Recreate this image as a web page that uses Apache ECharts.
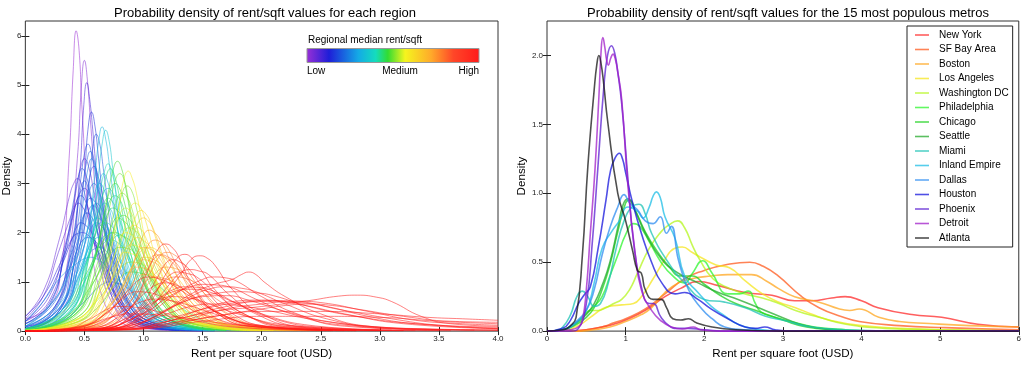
<!DOCTYPE html>
<html>
<head>
<meta charset="utf-8">
<script src="https://cdn.jsdelivr.net/npm/echarts@6/dist/echarts.min.js"></script>
<style>
html,body{margin:0;padding:0;background:#fff;}
#chart{width:1024px;height:365px;}
</style>
</head>
<body>
<div id="chart"></div>
<script>
// ---------------- DATA ----------------
const leftTitle = 'Probability density of rent/sqft values for each region';
const rightTitle = 'Probability density of rent/sqft values for the 15 most populous metros';
const xAxisTitle = 'Rent per square foot (USD)';
const yAxisTitle = 'Density';
const colorbarTitle = 'Regional median rent/sqft';
const colorbarLabels = ['Low', 'Medium', 'High'];

// Left panel: regional median rent/sqft (drives colour) and each region's density curve
const regionMedians = [
  0.36, 0.38, 0.44, 0.50, 0.54, 0.52, 0.42, 0.41, 0.53, 0.55, 0.43, 0.42, 0.57, 0.54, 0.58, 0.46, 0.58, 0.56, 0.48, 0.53, 0.51,
  0.66, 0.69, 0.73, 0.63, 0.68, 0.66, 0.70, 0.61, 0.65,
  0.80, 0.82, 0.76, 0.79, 0.83, 0.75, 0.87, 0.81, 0.80, 0.85, 0.82, 0.74, 0.84, 0.77, 0.78,
  0.90, 0.94, 0.97, 0.93, 0.95, 0.89, 0.98, 0.91,
  1.04, 1.07, 1.01, 1.11, 1.05, 1.02, 1.09, 1.03,
  1.35, 1.45, 1.55, 1.70, 2.20, 1.40, 1.38, 1.60, 1.60, 1.30, 1.80, 1.90, 2.00, 2.10, 1.25, 1.22, 1.50, 1.75, 1.95, 1.45, 2.05, 1.85,
  1.50, 1.65, 1.28, 1.90,
  0.52, 0.55, 0.49, 0.57, 0.53, 0.58,
  0.62, 0.67, 0.64,
  0.77, 0.81, 0.75, 0.83, 0.79,
  0.92, 0.96, 0.90,
  1.06, 1.09, 1.12, 1.01,
  1.30, 1.35, 1.45, 1.26
];
const regionCurves = [
  [[0,0.25],[0.2,0.5],[0.3,1.2],[0.37,3.5],[0.405,5.3],[0.43,6.1],[0.455,5.7],[0.48,4.5],[0.55,2.0],[0.65,0.7],[0.8,0.2],[1.0,0.05],[1.5,0]],
  [[0,0.1],[0.2,0.3],[0.35,1.3],[0.44,3.5],[0.475,5.0],[0.5,5.5],[0.525,5.1],[0.55,4.3],[0.62,2.2],[0.72,0.8],[0.85,0.25],[1.1,0.05],[1.5,0]],
  [[0,0.05],[0.25,0.3],[0.38,1.2],[0.46,3.2],[0.495,4.6],[0.52,5.05],[0.545,4.7],[0.57,4.1],[0.65,2.0],[0.75,0.8],[0.9,0.25],[1.1,0.05],[1.5,0]],
  [[0,0.05],[0.25,0.3],[0.4,1.2],[0.5,3.2],[0.53,4.1],[0.56,4.45],[0.59,4.15],[0.62,3.5],[0.7,1.8],[0.8,0.7],[0.95,0.2],[1.2,0.03],[1.6,0]],
  [[0,0.02],[0.3,0.3],[0.45,1.4],[0.54,3.0],[0.57,3.7],[0.6,4.0],[0.63,3.8],[0.66,3.3],[0.75,1.7],[0.85,0.7],[1.0,0.2],[1.2,0.04],[1.6,0]],
  [[0,0.1],[0.25,0.5],[0.38,1.6],[0.47,3.1],[0.5,3.6],[0.53,3.8],[0.565,3.55],[0.6,3.1],[0.7,1.6],[0.82,0.6],[1.0,0.15],[1.3,0.02]],
  [[0,0.2],[0.2,0.6],[0.35,1.8],[0.44,3.0],[0.47,3.35],[0.5,3.5],[0.54,3.3],[0.58,2.8],[0.68,1.5],[0.8,0.6],[1.0,0.15],[1.3,0.02]],
  [[0,0.3],[0.15,0.8],[0.28,1.8],[0.38,2.8],[0.41,3.0],[0.44,3.1],[0.48,2.95],[0.52,2.6],[0.62,1.4],[0.75,0.5],[0.9,0.15],[1.2,0.02]],
  [[0,0.15],[0.2,0.5],[0.33,1.6],[0.42,2.8],[0.45,3.15],[0.48,3.3],[0.515,3.15],[0.55,2.8],[0.65,1.6],[0.78,0.6],[0.95,0.15],[1.3,0.02]],
  [[0,0.05],[0.25,0.4],[0.4,1.6],[0.49,3.0],[0.52,3.45],[0.55,3.65],[0.585,3.45],[0.62,3.0],[0.72,1.6],[0.85,0.6],[1.0,0.2],[1.3,0.03]],
  [[0,0.2],[0.2,0.7],[0.33,1.7],[0.43,2.6],[0.465,2.82],[0.5,2.9],[0.54,2.78],[0.58,2.5],[0.68,1.5],[0.8,0.6],[1.0,0.2],[1.4,0.03]],
  [[0,0.25],[0.15,0.7],[0.28,1.6],[0.38,2.3],[0.415,2.52],[0.45,2.6],[0.49,2.5],[0.53,2.3],[0.63,1.4],[0.78,0.6],[1.0,0.15],[1.4,0.02]],
  [[0,0.05],[0.3,0.5],[0.43,1.6],[0.52,2.6],[0.55,2.9],[0.58,3.0],[0.615,2.88],[0.65,2.6],[0.75,1.5],[0.88,0.6],[1.05,0.2],[1.4,0.03]],
  [[0,0.1],[0.25,0.6],[0.38,1.5],[0.46,2.1],[0.49,2.33],[0.52,2.4],[0.56,2.32],[0.6,2.1],[0.7,1.4],[0.85,0.6],[1.05,0.2],[1.4,0.03]],
  [[0,0.05],[0.3,0.5],[0.45,1.4],[0.53,1.95],[0.57,2.15],[0.6,2.2],[0.645,2.13],[0.7,1.9],[0.8,1.3],[0.95,0.6],[1.15,0.2],[1.5,0.03]],
  [[0,0.3],[0.15,0.7],[0.3,1.4],[0.4,1.9],[0.44,1.98],[0.48,2.0],[0.53,1.95],[0.58,1.8],[0.7,1.2],[0.85,0.5],[1.05,0.15],[1.4,0.02]],
  [[0,0.05],[0.3,0.4],[0.45,1.1],[0.55,1.6],[0.585,1.67],[0.62,1.7],[0.67,1.66],[0.72,1.5],[0.85,1.0],[1.0,0.5],[1.2,0.2],[1.6,0.03]],
  [[0,0.02],[0.3,0.2],[0.5,0.6],[0.62,0.9],[0.67,0.97],[0.72,1.0],[0.78,0.97],[0.85,0.9],[1.0,0.6],[1.2,0.25],[1.5,0.05],[1.9,0]],
  [[0,0.2],[0.15,0.6],[0.3,1.3],[0.4,1.9],[0.435,2.12],[0.47,2.2],[0.51,2.15],[0.56,2.0],[0.66,1.3],[0.8,0.6],[1.0,0.2],[1.4,0.03]],
  [[0,0.08],[0.25,0.5],[0.4,1.5],[0.49,2.3],[0.52,2.6],[0.55,2.7],[0.59,2.62],[0.63,2.4],[0.73,1.5],[0.86,0.6],[1.05,0.2],[1.4,0.03]],
  [[0,0.03],[0.3,0.4],[0.44,1.5],[0.52,2.7],[0.55,3.2],[0.58,3.35],[0.615,3.15],[0.65,2.8],[0.75,1.5],[0.88,0.55],[1.05,0.15],[1.4,0.02]],

  [[0,0.02],[0.35,0.3],[0.5,1.4],[0.59,3.2],[0.62,3.85],[0.65,4.15],[0.68,3.9],[0.71,3.4],[0.8,1.8],[0.9,0.8],[1.05,0.25],[1.3,0.04],[1.7,0]],
  [[0,0.02],[0.38,0.3],[0.53,1.4],[0.62,3.2],[0.65,3.8],[0.68,4.08],[0.71,3.85],[0.74,3.3],[0.83,1.7],[0.95,0.7],[1.1,0.2],[1.4,0.03]],
  [[0,0.02],[0.38,0.4],[0.53,1.5],[0.63,2.8],[0.665,3.2],[0.7,3.4],[0.735,3.2],[0.77,2.8],[0.87,1.6],[1.0,0.6],[1.15,0.2],[1.5,0.03]],
  [[0,0.05],[0.3,0.4],[0.46,1.4],[0.56,2.5],[0.595,2.87],[0.63,3.0],[0.665,2.88],[0.7,2.6],[0.8,1.5],[0.92,0.6],[1.1,0.2],[1.5,0.03]],
  [[0,0.03],[0.3,0.35],[0.48,1.3],[0.6,2.3],[0.635,2.52],[0.67,2.6],[0.71,2.52],[0.75,2.3],[0.86,1.4],[1.0,0.6],[1.2,0.2],[1.6,0.03]],
  [[0,0.1],[0.2,0.5],[0.4,1.3],[0.52,2.0],[0.56,2.22],[0.6,2.3],[0.65,2.24],[0.7,2.1],[0.82,1.4],[0.98,0.6],[1.2,0.2],[1.6,0.03]],
  [[0,0.02],[0.35,0.3],[0.5,1.0],[0.63,1.8],[0.675,1.95],[0.72,2.0],[0.77,1.95],[0.82,1.8],[0.95,1.1],[1.1,0.5],[1.3,0.15],[1.7,0.02]],
  [[0,0.2],[0.15,0.6],[0.3,1.1],[0.45,1.4],[0.5,1.47],[0.55,1.5],[0.6,1.47],[0.65,1.4],[0.8,1.0],[0.95,0.5],[1.2,0.15],[1.6,0.02]],
  [[0,0.1],[0.25,0.45],[0.42,1.1],[0.54,1.7],[0.58,1.85],[0.62,1.9],[0.67,1.85],[0.72,1.75],[0.85,1.2],[1.0,0.55],[1.2,0.15],[1.6,0.02]],

  [[0,0.01],[0.4,0.3],[0.57,1.3],[0.7,2.8],[0.74,3.25],[0.78,3.45],[0.815,3.3],[0.85,2.9],[0.95,1.6],[1.08,0.6],[1.25,0.2],[1.6,0.02]],
  [[0,0.01],[0.42,0.3],[0.6,1.3],[0.72,2.6],[0.76,3.05],[0.8,3.2],[0.835,3.08],[0.87,2.7],[0.97,1.5],[1.1,0.6],[1.3,0.2],[1.7,0.02]],
  [[0,0.02],[0.38,0.4],[0.54,1.5],[0.65,2.7],[0.685,3.15],[0.72,3.3],[0.755,3.15],[0.79,2.8],[0.89,1.6],[1.02,0.6],[1.2,0.2],[1.6,0.02]],
  [[0,0.02],[0.4,0.35],[0.56,1.3],[0.68,2.5],[0.72,2.88],[0.76,3.0],[0.8,2.88],[0.84,2.6],[0.95,1.5],[1.1,0.6],[1.3,0.2],[1.7,0.02]],
  [[0,0.01],[0.45,0.3],[0.62,1.2],[0.74,2.3],[0.78,2.7],[0.82,2.8],[0.86,2.72],[0.9,2.5],[1.0,1.6],[1.15,0.7],[1.35,0.2],[1.8,0.02]],
  [[0,0.03],[0.35,0.4],[0.52,1.4],[0.63,2.3],[0.665,2.6],[0.7,2.7],[0.74,2.62],[0.78,2.4],[0.9,1.5],[1.05,0.6],[1.25,0.2],[1.7,0.02]],
  [[0,0.01],[0.45,0.25],[0.63,1.0],[0.76,2.0],[0.805,2.4],[0.85,2.5],[0.89,2.42],[0.93,2.2],[1.05,1.4],[1.2,0.6],[1.4,0.2],[1.9,0.02]],
  [[0,0.02],[0.4,0.3],[0.58,1.1],[0.7,1.9],[0.74,2.2],[0.78,2.3],[0.83,2.24],[0.88,2.1],[1.0,1.4],[1.15,0.6],[1.35,0.2],[1.8,0.02]],
  [[0,0.05],[0.3,0.35],[0.5,1.1],[0.65,1.8],[0.7,1.95],[0.75,2.0],[0.81,1.95],[0.87,1.8],[1.0,1.2],[1.18,0.5],[1.4,0.15],[1.9,0.02]],
  [[0,0.01],[0.45,0.2],[0.65,0.9],[0.78,1.7],[0.83,2.0],[0.88,2.1],[0.93,2.04],[0.98,1.9],[1.1,1.3],[1.25,0.6],[1.45,0.2],[2.0,0.02]],
  [[0,0.03],[0.35,0.3],[0.55,0.9],[0.7,1.5],[0.75,1.65],[0.8,1.7],[0.86,1.68],[0.92,1.6],[1.05,1.1],[1.22,0.5],[1.45,0.15],[2.0,0.02]],
  [[0,0.05],[0.3,0.4],[0.5,1.3],[0.6,2.0],[0.64,2.16],[0.68,2.2],[0.725,2.14],[0.77,2.0],[0.9,1.3],[1.05,0.6],[1.25,0.2],[1.7,0.02]],
  [[0,0.01],[0.4,0.2],[0.6,0.6],[0.78,1.2],[0.84,1.36],[0.9,1.4],[0.96,1.38],[1.02,1.3],[1.15,0.9],[1.35,0.4],[1.6,0.1],[2.2,0.01]],
  [[0,0.02],[0.38,0.35],[0.55,1.2],[0.66,2.1],[0.7,2.4],[0.74,2.5],[0.78,2.45],[0.82,2.3],[0.93,1.5],[1.08,0.6],[1.28,0.18],[1.7,0.02]],
  [[0,0.02],[0.4,0.3],[0.58,1.0],[0.71,1.7],[0.755,1.9],[0.8,1.95],[0.85,1.9],[0.9,1.8],[1.03,1.2],[1.2,0.5],[1.42,0.15],[1.9,0.02]],

  [[0,0.01],[0.45,0.2],[0.65,1.0],[0.79,2.5],[0.83,3.05],[0.87,3.25],[0.905,3.1],[0.94,2.8],[1.04,1.6],[1.18,0.6],[1.4,0.15],[1.9,0.01]],
  [[0,0],[0.5,0.15],[0.72,0.8],[0.88,1.9],[0.93,2.3],[0.98,2.45],[1.02,2.38],[1.06,2.2],[1.17,1.4],[1.32,0.6],[1.55,0.15],[2.1,0.01]],
  [[0,0],[0.5,0.12],[0.74,0.7],[0.9,1.8],[0.95,2.18],[1.0,2.3],[1.04,2.24],[1.08,2.1],[1.2,1.3],[1.35,0.6],[1.6,0.15],[2.2,0.01]],
  [[0,0.01],[0.45,0.15],[0.68,0.8],[0.83,1.7],[0.875,2.05],[0.92,2.15],[0.96,2.1],[1.0,2.0],[1.12,1.3],[1.28,0.6],[1.5,0.15],[2.0,0.01]],
  [[0,0.01],[0.45,0.15],[0.68,0.7],[0.84,1.5],[0.9,1.82],[0.95,1.9],[1.0,1.84],[1.06,1.7],[1.2,1.1],[1.38,0.5],[1.65,0.15],[2.3,0.01]],
  [[0,0.02],[0.4,0.2],[0.62,0.7],[0.75,1.3],[0.8,1.53],[0.85,1.6],[0.9,1.57],[0.96,1.5],[1.1,1.0],[1.3,0.45],[1.55,0.12],[2.1,0.01]],
  [[0,0],[0.45,0.1],[0.7,0.5],[0.88,1.2],[0.95,1.42],[1.02,1.5],[1.08,1.46],[1.15,1.35],[1.3,0.9],[1.5,0.4],[1.8,0.1],[2.5,0.01]],
  [[0,0.01],[0.45,0.18],[0.66,0.75],[0.8,1.45],[0.85,1.68],[0.9,1.75],[0.95,1.72],[1.0,1.65],[1.13,1.1],[1.3,0.5],[1.55,0.12],[2.1,0.01]],

  [[0,0],[0.55,0.1],[0.8,0.7],[0.95,1.6],[1.0,1.95],[1.05,2.05],[1.09,2.0],[1.13,1.9],[1.25,1.3],[1.4,0.6],[1.65,0.15],[2.3,0.01]],
  [[0,0],[0.55,0.08],[0.82,0.6],[0.98,1.4],[1.04,1.75],[1.1,1.85],[1.15,1.8],[1.2,1.7],[1.33,1.1],[1.5,0.5],[1.8,0.12],[2.5,0.01]],
  [[0,0],[0.5,0.1],[0.75,0.6],[0.9,1.3],[0.95,1.6],[1.0,1.7],[1.05,1.67],[1.1,1.6],[1.23,1.1],[1.4,0.5],[1.7,0.12],[2.4,0.01]],
  [[0,0],[0.6,0.08],[0.85,0.5],[1.02,1.2],[1.09,1.47],[1.15,1.55],[1.21,1.5],[1.27,1.4],[1.42,0.9],[1.62,0.4],[1.95,0.1],[2.7,0.01]],
  [[0,0],[0.6,0.08],[0.88,0.45],[1.05,1.0],[1.13,1.24],[1.2,1.3],[1.27,1.27],[1.33,1.2],[1.5,0.8],[1.72,0.35],[2.05,0.08],[2.8,0.01]],
  [[0,0.01],[0.45,0.1],[0.7,0.5],[0.85,1.0],[0.9,1.24],[0.95,1.3],[1.01,1.27],[1.07,1.2],[1.22,0.8],[1.42,0.35],[1.7,0.1],[2.4,0.01]],
  [[0,0],[0.5,0.08],[0.8,0.4],[0.97,0.85],[1.03,1.03],[1.1,1.1],[1.17,1.07],[1.25,1.0],[1.45,0.65],[1.7,0.3],[2.0,0.08],[2.8,0.01]],
  [[0,0],[0.5,0.1],[0.75,0.5],[0.9,1.15],[0.95,1.38],[1.0,1.45],[1.06,1.42],[1.12,1.35],[1.27,0.9],[1.47,0.4],[1.75,0.1],[2.4,0.01]],

  [[0,0],[0.6,0.05],[0.88,0.45],[1.05,1.3],[1.12,1.65],[1.19,1.77],[1.25,1.68],[1.3,1.5],[1.42,0.9],[1.6,0.4],[1.9,0.1],[2.6,0.01]],
  [[0,0],[0.7,0.05],[1.0,0.45],[1.2,1.2],[1.28,1.47],[1.35,1.56],[1.41,1.48],[1.47,1.3],[1.62,0.8],[1.85,0.35],[2.2,0.08],[3.0,0.01]],
  [[0,0],[0.75,0.05],[1.05,0.4],[1.3,1.1],[1.4,1.45],[1.48,1.53],[1.54,1.48],[1.6,1.35],[1.75,0.85],[2.0,0.35],[2.4,0.08],[3.2,0.01]],
  [[0,0],[0.8,0.05],[1.1,0.3],[1.4,0.75],[1.6,0.95],[1.75,1.05],[1.83,1.15],[1.89,1.2],[1.95,1.15],[2.02,1.0],[2.2,0.7],[2.5,0.35],[2.9,0.1],[3.5,0.02]],
  [[0,0],[0.8,0.03],[1.2,0.2],[1.6,0.4],[2.0,0.5],[2.4,0.62],[2.65,0.71],[2.81,0.73],[2.97,0.69],[3.1,0.6],[3.35,0.3],[3.6,0.15],[4.0,0.1]],
  [[0,0],[0.65,0.05],[0.95,0.4],[1.15,0.95],[1.23,1.15],[1.3,1.2],[1.37,1.17],[1.45,1.1],[1.62,0.75],[1.85,0.35],[2.2,0.1],[3.0,0.01]],
  [[0,0],[0.65,0.05],[0.95,0.45],[1.12,1.1],[1.19,1.38],[1.25,1.45],[1.31,1.4],[1.37,1.3],[1.52,0.85],[1.72,0.4],[2.05,0.1],[2.8,0.01]],
  [[0,0],[0.7,0.05],[1.0,0.3],[1.3,0.8],[1.5,1.05],[1.6,1.1],[1.7,1.08],[1.8,1.0],[2.0,0.7],[2.3,0.35],[2.7,0.1],[3.5,0.02]],
  [[0,0],[0.6,0.05],[0.95,0.3],[1.25,0.75],[1.4,0.9],[1.5,0.95],[1.6,0.94],[1.72,0.9],[1.95,0.65],[2.25,0.35],[2.7,0.12],[3.5,0.03],[4.0,0.02]],
  [[0,0],[0.45,0.08],[0.7,0.4],[0.9,0.9],[0.97,1.05],[1.05,1.1],[1.12,1.07],[1.2,1.0],[1.4,0.7],[1.65,0.35],[2.0,0.1],[2.8,0.01]],
  [[0,0],[0.7,0.05],[1.05,0.3],[1.4,0.65],[1.6,0.76],[1.8,0.8],[1.95,0.78],[2.1,0.72],[2.4,0.5],[2.8,0.3],[3.3,0.15],[4.0,0.08]],
  [[0,0],[0.8,0.05],[1.2,0.25],[1.6,0.5],[1.85,0.59],[2.1,0.62],[2.3,0.61],[2.5,0.58],[2.9,0.4],[3.3,0.22],[3.7,0.15],[4.0,0.12]],
  [[0,0],[0.8,0.03],[1.2,0.15],[1.6,0.3],[2.0,0.45],[2.2,0.52],[2.4,0.55],[2.6,0.52],[2.8,0.45],[3.2,0.3],[3.6,0.2],[4.0,0.18]],
  [[0,0],[0.8,0.02],[1.2,0.12],[1.6,0.3],[2.0,0.4],[2.5,0.4],[3.0,0.35],[3.4,0.28],[3.7,0.25],[4.0,0.22]],
  [[0,0],[0.4,0.05],[0.65,0.3],[0.82,0.65],[0.88,0.76],[0.95,0.8],[1.02,0.79],[1.1,0.75],[1.3,0.55],[1.55,0.3],[1.9,0.1],[2.6,0.02]],
  [[0,0],[0.35,0.05],[0.55,0.25],[0.7,0.45],[0.8,0.5],[0.95,0.48],[1.15,0.38],[1.45,0.2],[1.9,0.06],[2.6,0.01]],
  [[0,0],[0.7,0.04],[1.0,0.35],[1.22,0.95],[1.31,1.18],[1.4,1.25],[1.47,1.22],[1.55,1.15],[1.72,0.75],[1.95,0.35],[2.3,0.1],[3.1,0.02]],
  [[0,0],[0.75,0.03],[1.1,0.3],[1.4,0.7],[1.55,0.85],[1.7,0.9],[1.83,0.87],[1.95,0.8],[2.2,0.55],[2.55,0.25],[3.0,0.08],[3.8,0.02]],
  [[0,0],[0.9,0.03],[1.3,0.2],[1.7,0.45],[2.0,0.55],[2.25,0.6],[2.55,0.5],[2.9,0.3],[3.3,0.15],[4.0,0.05]],
  [[0,0],[0.6,0.04],[0.95,0.3],[1.15,0.7],[1.25,0.84],[1.35,0.9],[1.45,0.89],[1.55,0.85],[1.8,0.55],[2.1,0.25],[2.5,0.08],[3.3,0.01]],
  [[0,0],[1.0,0.05],[1.5,0.2],[2.0,0.3],[2.5,0.3],[3.0,0.28],[3.5,0.2],[4.0,0.15]],
  [[0,0],[0.9,0.05],[1.3,0.25],[1.7,0.5],[2.0,0.6],[2.3,0.58],[2.7,0.42],[3.1,0.25],[3.5,0.12],[4.0,0.06]],
  [[0,0],[0.6,0.03],[0.9,0.25],[1.1,0.6],[1.25,0.8],[1.4,0.85],[1.55,0.8],[1.75,0.6],[2.0,0.35],[2.4,0.12],[3.0,0.03]],
  [[0,0],[0.7,0.03],[1.0,0.2],[1.3,0.55],[1.5,0.7],[1.7,0.72],[1.9,0.62],[2.2,0.4],[2.6,0.18],[3.2,0.05],[4.0,0.02]],
  [[0,0],[0.5,0.04],[0.8,0.3],[1.0,0.75],[1.1,0.93],[1.18,0.98],[1.27,0.94],[1.4,0.75],[1.65,0.35],[2.0,0.1],[2.7,0.01]],
  [[0,0],[0.8,0.03],[1.2,0.2],[1.5,0.45],[1.75,0.6],[2.0,0.63],[2.3,0.55],[2.7,0.35],[3.2,0.15],[4.0,0.05]],

  [[0,0.08],[0.25,0.45],[0.38,1.5],[0.45,2.6],[0.475,2.95],[0.5,3.05],[0.53,2.92],[0.56,2.6],[0.66,1.5],[0.8,0.55],[0.98,0.15],[1.3,0.02]],
  [[0,0.05],[0.28,0.45],[0.42,1.4],[0.51,2.2],[0.54,2.47],[0.57,2.55],[0.61,2.47],[0.65,2.2],[0.75,1.4],[0.9,0.55],[1.1,0.15],[1.5,0.02]],
  [[0,0.15],[0.2,0.55],[0.33,1.5],[0.41,2.4],[0.44,2.68],[0.47,2.75],[0.505,2.66],[0.54,2.4],[0.64,1.4],[0.78,0.5],[0.95,0.15],[1.3,0.02]],
  [[0,0.04],[0.3,0.4],[0.45,1.3],[0.54,2.2],[0.57,2.5],[0.6,2.6],[0.64,2.5],[0.68,2.25],[0.78,1.4],[0.92,0.6],[1.1,0.18],[1.5,0.02]],
  [[0,0.15],[0.22,0.55],[0.36,1.2],[0.45,1.7],[0.49,1.86],[0.53,1.9],[0.58,1.85],[0.63,1.7],[0.75,1.1],[0.9,0.5],[1.1,0.15],[1.5,0.02]],
  [[0,0.04],[0.28,0.4],[0.42,1.5],[0.5,2.8],[0.53,3.3],[0.56,3.5],[0.59,3.35],[0.62,2.9],[0.72,1.5],[0.85,0.55],[1.02,0.15],[1.4,0.02]],
  [[0,0.06],[0.3,0.4],[0.46,1.2],[0.57,1.95],[0.605,2.14],[0.64,2.2],[0.68,2.14],[0.72,1.95],[0.84,1.2],[1.0,0.5],[1.2,0.15],[1.6,0.02]],
  [[0,0.03],[0.35,0.35],[0.5,1.3],[0.62,2.45],[0.66,2.8],[0.7,2.9],[0.74,2.8],[0.78,2.45],[0.88,1.4],[1.02,0.55],[1.2,0.15],[1.6,0.02]],
  [[0,0.03],[0.33,0.35],[0.49,1.4],[0.6,2.7],[0.63,3.05],[0.66,3.2],[0.695,3.05],[0.73,2.7],[0.83,1.5],[0.96,0.55],[1.12,0.15],[1.5,0.02]],
  [[0,0.02],[0.38,0.3],[0.55,1.2],[0.67,2.3],[0.715,2.65],[0.76,2.75],[0.8,2.67],[0.84,2.4],[0.95,1.4],[1.1,0.55],[1.3,0.15],[1.7,0.02]],
  [[0,0.01],[0.42,0.25],[0.6,0.9],[0.73,1.9],[0.78,2.25],[0.83,2.35],[0.87,2.3],[0.92,2.1],[1.04,1.3],[1.2,0.55],[1.42,0.15],[1.9,0.02]],
  [[0,0.04],[0.32,0.35],[0.5,1.0],[0.62,1.6],[0.67,1.8],[0.72,1.85],[0.78,1.8],[0.84,1.65],[0.97,1.1],[1.15,0.45],[1.38,0.12],[1.9,0.01]],
  [[0,0.01],[0.45,0.2],[0.63,1.0],[0.77,2.3],[0.82,2.8],[0.86,2.95],[0.9,2.85],[0.94,2.5],[1.05,1.4],[1.2,0.55],[1.42,0.15],[1.9,0.01]],
  [[0,0.01],[0.4,0.15],[0.6,0.45],[0.76,0.95],[0.83,1.15],[0.9,1.2],[0.97,1.18],[1.05,1.1],[1.2,0.75],[1.4,0.35],[1.7,0.08],[2.3,0.01]],
  [[0,0.01],[0.48,0.15],[0.68,0.8],[0.83,2.0],[0.88,2.45],[0.93,2.6],[0.97,2.52],[1.01,2.3],[1.12,1.4],[1.28,0.6],[1.5,0.15],[2.0,0.01]],
  [[0,0],[0.5,0.1],[0.73,0.55],[0.9,1.3],[0.97,1.6],[1.05,1.7],[1.11,1.65],[1.18,1.5],[1.33,0.95],[1.52,0.42],[1.8,0.1],[2.5,0.01]],
  [[0,0.02],[0.42,0.2],[0.63,0.8],[0.76,1.6],[0.8,1.9],[0.85,2.0],[0.9,1.95],[0.95,1.8],[1.08,1.15],[1.25,0.5],[1.5,0.12],[2.0,0.01]],
  [[0,0],[0.55,0.08],[0.8,0.45],[0.98,1.1],[1.05,1.45],[1.12,1.55],[1.18,1.5],[1.25,1.38],[1.4,0.9],[1.6,0.4],[1.9,0.1],[2.6,0.01]],
  [[0,0],[0.6,0.05],[0.88,0.45],[1.05,1.15],[1.13,1.5],[1.2,1.6],[1.26,1.55],[1.32,1.42],[1.47,0.9],[1.67,0.4],[2.0,0.1],[2.7,0.01]],
  [[0,0],[0.6,0.05],[0.9,0.35],[1.1,0.8],[1.19,1.03],[1.28,1.1],[1.37,1.06],[1.46,0.95],[1.65,0.6],[1.9,0.28],[2.3,0.07],[3.0,0.01]],
  [[0,0.01],[0.45,0.08],[0.7,0.4],[0.87,0.85],[0.94,1.08],[1.0,1.15],[1.07,1.12],[1.15,1.02],[1.32,0.65],[1.55,0.28],[1.85,0.07],[2.5,0.01]],
  [[0,0],[0.45,0.05],[0.7,0.25],[0.9,0.5],[1.0,0.61],[1.1,0.65],[1.2,0.63],[1.35,0.55],[1.6,0.35],[1.9,0.15],[2.4,0.04],[3.2,0.01]],
  [[0,0],[0.55,0.04],[0.85,0.25],[1.05,0.55],[1.15,0.66],[1.25,0.7],[1.36,0.68],[1.5,0.6],[1.8,0.35],[2.2,0.12],[2.8,0.03],[3.6,0.01]],
  [[0,0],[0.6,0.03],[0.95,0.15],[1.2,0.35],[1.4,0.5],[1.6,0.55],[1.8,0.52],[2.05,0.42],[2.4,0.25],[2.9,0.1],[3.5,0.04],[4.0,0.02]],
  [[0,0],[0.3,0.03],[0.55,0.15],[0.75,0.3],[0.9,0.35],[1.05,0.34],[1.3,0.28],[1.6,0.18],[2.0,0.08],[2.6,0.02]]
];

// Right panel: 15 metros
const metroNames = ['New York','SF Bay Area','Boston','Los Angeles','Washington DC','Philadelphia','Chicago','Seattle','Miami','Inland Empire','Dallas','Houston','Phoenix','Detroit','Atlanta'];
const newYork = [[0,0],[0.3,0],[0.5,0.01],[0.7,0.03],[0.85,0.05],[1.0,0.08],[1.25,0.15],[1.5,0.25],[1.7,0.31],[1.92,0.36],[2.18,0.33],[2.52,0.28],[2.86,0.26],[3.15,0.22],[3.36,0.22],[3.62,0.24],[3.79,0.25],[4.0,0.22],[4.21,0.17],[4.64,0.12],[5.02,0.1],[5.48,0.05],[6,0.03]];
const sfBayArea = [[0,0],[0.3,0],[0.5,0.01],[0.7,0.03],[0.85,0.06],[1.0,0.09],[1.25,0.16],[1.5,0.27],[1.75,0.38],[2.0,0.44],[2.26,0.48],[2.58,0.5],[2.75,0.47],[2.94,0.4],[3.24,0.25],[3.46,0.17],[3.72,0.11],[3.97,0.07],[4.48,0.04],[5.06,0.025],[6,0.01]];
const boston = [[0,0],[0.4,0],[0.6,0.01],[0.8,0.03],[1.0,0.07],[1.2,0.12],[1.33,0.17],[1.5,0.28],[1.67,0.35],[1.84,0.38],[2.09,0.4],[2.3,0.41],[2.6,0.41],[2.8,0.36],[2.94,0.31],[3.15,0.25],[3.46,0.21],[3.72,0.16],[3.85,0.15],[3.97,0.16],[4.22,0.1],[4.48,0.07],[4.86,0.055],[5.37,0.04],[6.0,0.03]];
const losAngeles = [[0,0],[0.2,0.005],[0.4,0.04],[0.55,0.1],[0.7,0.16],[0.8,0.18],[0.95,0.19],[1.1,0.2],[1.2,0.25],[1.35,0.38],[1.5,0.52],[1.62,0.6],[1.72,0.61],[1.85,0.57],[1.94,0.54],[2.15,0.48],[2.32,0.46],[2.53,0.36],[2.74,0.27],[2.95,0.21],[3.16,0.17],[3.38,0.12],[3.59,0.08],[4,0.04],[4.5,0.02],[5,0.01],[6,0]];
const washingtonDC = [[0,0],[0.2,0.01],[0.35,0.05],[0.45,0.1],[0.55,0.15],[0.65,0.15],[0.75,0.17],[0.85,0.2],[0.95,0.23],[1.05,0.3],[1.15,0.42],[1.3,0.6],[1.45,0.72],[1.55,0.77],[1.66,0.8],[1.75,0.75],[1.85,0.62],[1.94,0.52],[2.11,0.38],[2.32,0.31],[2.52,0.27],[2.74,0.24],[2.95,0.2],[3.16,0.15],[3.46,0.1],[3.8,0.05],[4.3,0.02],[5,0.01],[6,0]];
const philadelphia = [[0,0],[0.2,0.01],[0.35,0.05],[0.5,0.13],[0.6,0.18],[0.7,0.25],[0.8,0.4],[0.9,0.55],[1.0,0.7],[1.1,0.78],[1.18,0.76],[1.3,0.65],[1.45,0.5],[1.6,0.4],[1.75,0.35],[1.85,0.42],[1.98,0.51],[2.1,0.42],[2.3,0.27],[2.45,0.27],[2.56,0.29],[2.65,0.2],[2.72,0.14],[2.9,0.1],[3.1,0.07],[3.4,0.03],[3.8,0.01],[4.2,0],[6,0]];
const chicago = [[0,0],[0.2,0.01],[0.35,0.04],[0.5,0.1],[0.6,0.17],[0.7,0.3],[0.8,0.48],[0.9,0.72],[1.0,0.93],[1.05,0.95],[1.12,0.88],[1.25,0.72],[1.4,0.58],[1.55,0.47],[1.7,0.4],[1.85,0.4],[2.0,0.34],[2.2,0.26],[2.4,0.2],[2.7,0.14],[3.0,0.08],[3.3,0.03],[3.7,0.01],[4,0],[6,0]];
const seattle = [[0,0],[0.2,0.01],[0.35,0.05],[0.5,0.12],[0.6,0.2],[0.7,0.33],[0.8,0.5],[0.9,0.75],[0.97,0.92],[1.03,0.96],[1.1,0.9],[1.25,0.71],[1.46,0.52],[1.67,0.42],[1.92,0.35],[2.18,0.28],[2.43,0.23],[2.73,0.16],[3.03,0.09],[3.28,0.04],[3.6,0.01],[4,0],[6,0]];
const miami = [[0,0],[0.1,0],[0.2,0.03],[0.3,0.12],[0.38,0.25],[0.45,0.29],[0.52,0.25],[0.6,0.18],[0.68,0.2],[0.78,0.35],[0.88,0.6],[0.98,0.8],[1.08,0.9],[1.17,0.92],[1.25,0.85],[1.33,0.71],[1.54,0.5],[1.75,0.35],[2.0,0.23],[2.26,0.21],[2.52,0.17],[2.77,0.11],[3.03,0.075],[3.36,0.03],[3.8,0.01],[4.5,0],[6,0]];
const inlandEmpire = [[0,0],[0.2,0.01],[0.35,0.05],[0.5,0.15],[0.6,0.35],[0.7,0.6],[0.82,0.72],[0.92,0.8],[1.03,0.9],[1.15,0.87],[1.22,0.82],[1.3,0.9],[1.35,0.98],[1.39,1.01],[1.44,0.97],[1.5,0.83],[1.63,0.67],[1.75,0.4],[1.92,0.28],[2.09,0.18],[2.26,0.11],[2.43,0.05],[2.6,0.02],[3,0],[6,0]];
const dallas = [[0,0],[0.2,0.01],[0.35,0.06],[0.5,0.15],[0.6,0.3],[0.7,0.55],[0.8,0.75],[0.9,0.9],[0.98,0.99],[1.05,0.93],[1.15,0.88],[1.25,0.8],[1.35,0.78],[1.44,0.83],[1.52,0.71],[1.58,0.76],[1.67,0.52],[1.8,0.3],[1.97,0.16],[2.1,0.09],[2.26,0.03],[2.5,0.01],[3,0],[6,0]];
const houston = [[0,0],[0.2,0.02],[0.3,0.08],[0.4,0.2],[0.47,0.26],[0.55,0.32],[0.65,0.6],[0.75,0.95],[0.81,1.17],[0.87,1.26],[0.92,1.29],[0.96,1.25],[1.0,1.15],[1.08,0.95],[1.2,0.71],[1.33,0.5],[1.46,0.35],[1.63,0.27],[1.75,0.28],[1.92,0.23],[2.09,0.16],[2.3,0.09],[2.52,0.03],[2.65,0.02],[2.77,0.03],[2.9,0.01],[3.1,0],[6,0]];
const phoenix = [[0,0],[0.3,0],[0.4,0.02],[0.5,0.2],[0.57,0.6],[0.645,1.17],[0.72,1.75],[0.77,2.0],[0.82,2.07],[0.86,2.02],[0.9,1.88],[0.95,1.65],[1.03,1.1],[1.1,0.65],[1.2,0.32],[1.3,0.2],[1.35,0.2],[1.45,0.1],[1.55,0.04],[1.65,0.02],[1.8,0.02],[2,0.01],[2.3,0],[6,0]];
const detroit = [[0,0],[0.3,0.01],[0.4,0.03],[0.45,0.08],[0.5,0.3],[0.55,0.7],[0.61,1.17],[0.66,1.7],[0.69,2.05],[0.71,2.13],[0.735,2.06],[0.76,1.96],[0.78,1.93],[0.81,1.98],[0.84,2.01],[0.87,1.97],[0.9,1.88],[0.95,1.68],[1.03,1.05],[1.12,0.57],[1.2,0.3],[1.33,0.15],[1.46,0.07],[1.58,0.03],[1.72,0.015],[1.86,0.03],[1.95,0.01],[2.2,0],[6,0]];
const atlanta = [[0,0],[0.2,0.01],[0.3,0.04],[0.37,0.1],[0.45,0.55],[0.52,1.2],[0.6,1.75],[0.635,1.94],[0.66,2.0],[0.685,1.95],[0.72,1.8],[0.77,1.53],[0.9,1.0],[1.0,0.8],[1.09,0.58],[1.15,0.44],[1.2,0.42],[1.25,0.3],[1.35,0.23],[1.45,0.23],[1.52,0.17],[1.6,0.09],[1.7,0.08],[1.8,0.09],[1.9,0.06],[2.1,0.03],[2.4,0.01],[3,0],[6,0]];
const metroCurves = [newYork, sfBayArea, boston, losAngeles, washingtonDC, philadelphia, chicago, seattle, miami, inlandEmpire, dallas, houston, phoenix, detroit, atlanta];

// Tick labels
const leftXTicks = [0, 0.5, 1, 1.5, 2, 2.5, 3, 3.5, 4];
const leftYTicks = [0, 1, 2, 3, 4, 5, 6];
const rightXTicks = [0, 1, 2, 3, 4, 5, 6];
const rightYTicks = [0, 0.5, 1, 1.5, 2];

// ---------------- STYLE ----------------
const metroColors = ['#ff2a2a','#ff5a1e','#ffa51e','#f5e51e','#b4f51e','#2ef52e','#1ed21e','#24aa2c','#1ec3b4','#1ebee6','#2d8cf0','#1414dc','#5a1ed2','#a01ec8','#141414'];
const cmapStops = [[0,'#9a30d6'],[0.13,'#1e1ed8'],[0.30,'#14aae6'],[0.40,'#14dcbe'],[0.47,'#32dc32'],[0.57,'#f5f51e'],[0.72,'#ffaa2a'],[0.85,'#ff4628'],[1,'#ff1a1a']];
const FONT = 'Liberation Sans, Arial, sans-serif';

function hex2rgb(h){return [parseInt(h.slice(1,3),16),parseInt(h.slice(3,5),16),parseInt(h.slice(5,7),16)];}
function cmap(t){
  t = Math.max(0, Math.min(1, t));
  for (let i = 1; i < cmapStops.length; i++) {
    if (t <= cmapStops[i][0]) {
      const a = cmapStops[i-1], b = cmapStops[i];
      const f = (t - a[0]) / (b[0] - a[0]);
      const ca = hex2rgb(a[1]), cb = hex2rgb(b[1]);
      return 'rgb(' + ca.map((v,k)=>Math.round(v+(cb[k]-v)*f)).join(',') + ')';
    }
  }
  return cmapStops[cmapStops.length-1][1];
}
const medLow = 0.36, medHigh = 1.28;

const G1 = {left: 22, top: 21, width: 476, height: 311};
const G2 = {left: 547, top: 21, width: 472, height: 311};

function fmt(digits){
  return function(v){ return digits >= 0 ? Number(v).toFixed(digits) : String(v); };
}
const labelStyle = {fontFamily: FONT, fontSize: 8, color: '#222'};
function tickStyle(vals){ return {show: true, inside: true, length: 4, customValues: vals, lineStyle: {color: '#222', width: 1}}; }

function mkX(grid, max, interval, ticks, digits, pos){
  const o = {type: 'value', gridIndex: grid, min: 0, max: max, interval: interval, position: pos,
    axisLine: {show: false}, axisTick: tickStyle(ticks), splitLine: {show: false},
    axisLabel: pos === 'bottom' ? Object.assign({margin: 4, customValues: ticks, formatter: fmt(digits)}, labelStyle) : {show: false}};
  if (pos === 'bottom') {
    o.name = xAxisTitle; o.nameLocation = 'middle'; o.nameGap = 13;
    o.nameTextStyle = {fontFamily: FONT, fontSize: 11.6, color: '#000', verticalAlign: 'top'};
  }
  return o;
}
function mkY(grid, max, interval, ticks, digits, pos, gap){
  const o = {type: 'value', gridIndex: grid, min: 0, max: max, interval: interval, position: pos,
    axisLine: {show: false}, axisTick: tickStyle(ticks), splitLine: {show: false},
    axisLabel: pos === 'left' ? Object.assign({margin: 4, customValues: ticks, formatter: fmt(digits)}, labelStyle) : {show: false}};
  if (pos === 'left') {
    o.name = yAxisTitle; o.nameLocation = 'middle'; o.nameGap = gap; o.nameRotate = 90;
    o.nameTextStyle = {fontFamily: FONT, fontSize: 11.6, color: '#000'};
  }
  return o;
}

const series = [];
// left: lowest medians drawn first so the red curves lie on top
const order = regionMedians.map((m,i)=>i).sort((a,b)=>regionMedians[a]-regionMedians[b]);
order.forEach(i => {
  series.push({
    type: 'line', xAxisIndex: 0, yAxisIndex: 0, data: regionCurves[i],
    smooth: 0.5, symbol: 'none', silent: true,
    lineStyle: {width: 1, color: cmap((regionMedians[i]-medLow)/(medHigh-medLow)), opacity: 0.55}
  });
});
metroNames.forEach((n,i) => {
  series.push({
    name: n, type: 'line', xAxisIndex: 1, yAxisIndex: 1, data: metroCurves[i],
    smooth: 0.5, symbol: 'none', silent: true,
    itemStyle: {color: metroColors[i], opacity: 0.75},
    lineStyle: {width: 1.6, color: metroColors[i], opacity: 0.75}
  });
});

const cb = {x: 307, y: 48.5, w: 172, h: 14};
const gradStops = cmapStops.map(s => ({offset: s[0], color: s[1]}));

const option = {
  animation: false,
  backgroundColor: '#fff',
  title: [
    {text: leftTitle, left: 260, top: 2, textAlign: 'center', textStyle: {fontFamily: FONT, fontSize: 13, fontWeight: 'normal', color: '#000'}},
    {text: rightTitle, left: 783, top: 2, textAlign: 'center', textStyle: {fontFamily: FONT, fontSize: 13, fontWeight: 'normal', color: '#000'}}
  ],
  grid: [
    Object.assign({show: true, borderColor: '#333', borderWidth: 1, backgroundColor: 'transparent', containLabel: false}, G1),
    Object.assign({show: true, borderColor: '#333', borderWidth: 1, backgroundColor: 'transparent', containLabel: false}, G2)
  ],
  xAxis: [
    mkX(0, 4, 0.5, leftXTicks, 1, 'bottom'),
    mkX(1, 6, 1, rightXTicks, -1, 'bottom'),
    mkX(0, 4, 0.5, leftXTicks, 1, 'top'),
    mkX(1, 6, 1, rightXTicks, -1, 'top')
  ],
  yAxis: [
    mkY(0, 6.3, 1, leftYTicks, -1, 'left', 10),
    mkY(1, 2.25, 0.5, rightYTicks, 1, 'left', 17),
    mkY(0, 6.3, 1, leftYTicks, -1, 'right'),
    mkY(1, 2.25, 0.5, rightYTicks, 1, 'right')
  ],
  legend: {
    data: metroNames, orient: 'vertical', left: 907, top: 26,
    icon: 'path://M0,0M0,4.2L14,4.2L14,5.8L0,5.8ZM14,10',
    itemWidth: 14, itemHeight: 10, itemGap: 4.5,
    padding: [4, 4, 4, 8],
    borderColor: '#222', borderWidth: 1, backgroundColor: '#fff',
    textStyle: {fontFamily: FONT, fontSize: 10, color: '#000', padding: [0, 0, 0, 5]},
    selectedMode: false
  },
  graphic: [
    {type: 'text', left: 308, top: 35, style: {text: colorbarTitle, font: '10px ' + FONT, fill: '#000'}},
    {type: 'rect', shape: {x: cb.x, y: cb.y, width: cb.w, height: cb.h},
      style: {fill: {type: 'linear', x: 0, y: 0, x2: 1, y2: 0, colorStops: gradStops}, stroke: '#999', lineWidth: 1}},
    {type: 'text', x: cb.x, y: 66, style: {text: colorbarLabels[0], font: '10px ' + FONT, fill: '#000', align: 'left'}},
    {type: 'text', x: cb.x + cb.w / 2 + 7, y: 66, style: {text: colorbarLabels[1], font: '10px ' + FONT, fill: '#000', align: 'center'}},
    {type: 'text', x: cb.x + cb.w, y: 66, style: {text: colorbarLabels[2], font: '10px ' + FONT, fill: '#000', align: 'right'}}
  ],
  series: series
};

const chart = echarts.init(document.getElementById('chart'), null, {renderer: 'canvas'});
chart.setOption(option);
</script>
</body>
</html>
